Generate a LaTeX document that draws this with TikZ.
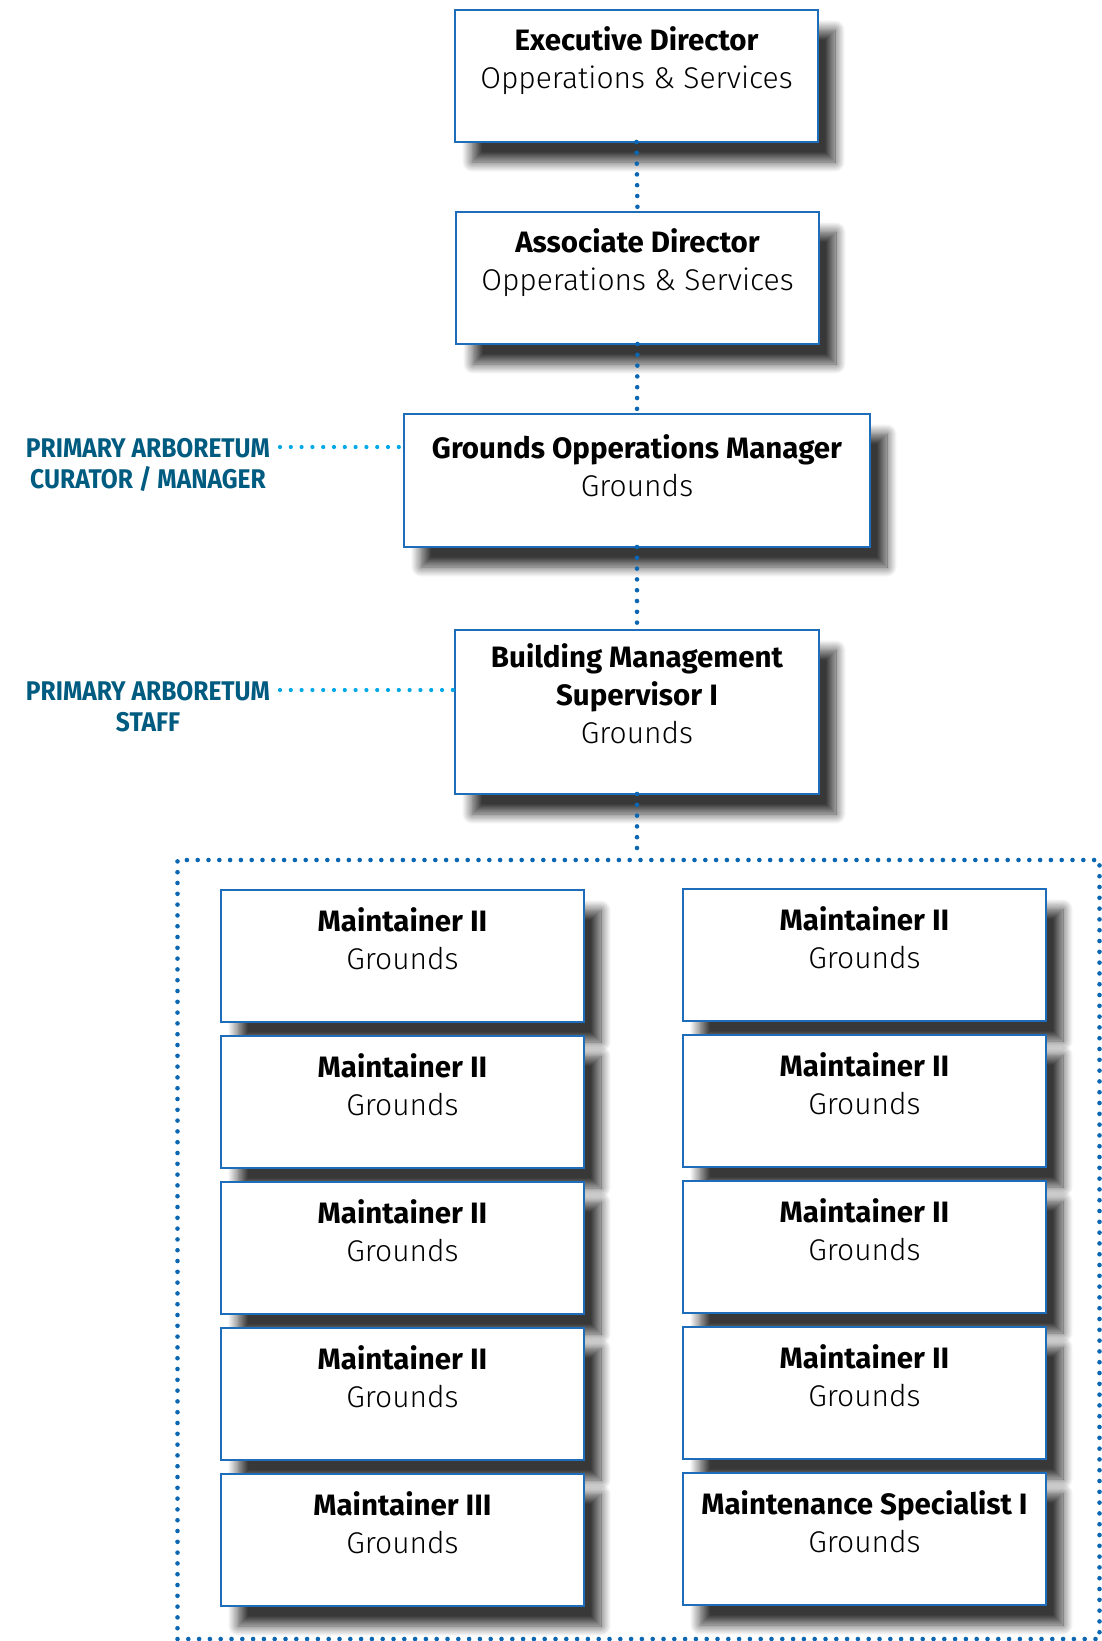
\documentclass[tikz,border=0pt]{standalone}
\usepackage{fontspec}
\usetikzlibrary{shadows.blur}
\newfontfamily\titlefont{Fira Sans}
\newfontfamily\subfont{Fira Sans Light}
\newfontfamily\labfont{Fira Sans}[FakeStretch=0.91]
\definecolor{boxblue}{HTML}{1D6DBA}
\definecolor{dotblue}{HTML}{0B67B2}
\definecolor{lightdot}{HTML}{00A8E8}
\definecolor{labteal}{HTML}{005B80}
\newcommand\ttl[1]{{\titlefont\bfseries\fontsize{29.5}{38}\selectfont\rule{0pt}{30pt}#1\par}}
\newcommand\sbt[1]{{\subfont\fontsize{30}{38}\selectfont #1\par}}
\newcommand\bx[5]{\parbox[c][#1][t]{#2}{\centering\vspace*{#3}\ttl{#4}\sbt{#5}}}
\begin{document}
\begin{tikzpicture}[x=1pt,y=-1pt,
 orgbox/.style={draw=boxblue, line width=2.5pt, fill=white, inner sep=0pt, outer sep=0pt,
   blur shadow={shadow xshift=17pt, shadow yshift=-20pt, shadow blur radius=10pt, shadow blur steps=12, shadow opacity=78}},
 dotline/.style={draw=dotblue, line width=4.6pt, line cap=round, dash pattern=on 0pt off 10.8pt},
 lightline/.style={draw=lightdot, line width=4.2pt, line cap=round, dash pattern=on 0pt off 10.8pt},
 labnode/.style={text=labteal, font=\labfont\bfseries\fontsize{27}{31}\selectfont, align=center, inner sep=0pt}]
\useasboundingbox (0,0) rectangle (1102,1641);
% frame
\node (frame) [dotline, minimum width=922pt, minimum height=779pt, inner sep=0pt] at (638.5,1249.5) {};
% top chain
\node (exec) [orgbox] at (636.5,76) {\bx{132pt}{363pt}{10pt}{Executive Director}{Opperations \& Services}};
\node (assoc) [orgbox] at (637.5,278) {\bx{132pt}{363pt}{10pt}{Associate Director}{Opperations \& Services}};
\node (gom) [orgbox] at (637,480.5) {\bx{133pt}{466pt}{14pt}{Grounds Opperations Manager}{Grounds}};
\node (bms) [orgbox] at (637,712) {\bx{164pt}{364pt}{7pt}{Building Management\\Supervisor I}{Grounds}};
% labels
\node (lab1) [labnode, anchor=north] at (148,438) {PRIMARY ARBORETUM\\CURATOR / MANAGER};
\node (lab2) [labnode, anchor=north] at (148,681) {PRIMARY ARBORETUM\\STAFF};
\coordinate (c1) at (280,447);
\coordinate (c2) at (280,690);
% maintainers left
\foreach \i/\t in {0/Maintainer II,1/Maintainer II,2/Maintainer II,3/Maintainer II,4/Maintainer III}{
  \node (L\i) [orgbox] at (402.5,956+146*\i) {\bx{132pt}{363pt}{11pt}{\t}{Grounds}};
}
\foreach \i/\t in {0/Maintainer II,1/Maintainer II,2/Maintainer II,3/Maintainer II,4/Maintenance Specialist I}{
  \node (R\i) [orgbox] at (864.5,955+146*\i) {\bx{132pt}{363pt}{11pt}{\t}{Grounds}};
}
% connectors
\draw[dotline] (exec.south) -- (assoc.north);
\draw[dotline] (assoc.south) -- (gom.north);
\draw[dotline] (gom.south) -- (bms.north);
\draw[dotline] (bms.south) -- (bms.south |- frame.north);
\draw[lightline] (c1) -- (c1 -| gom.west);
\draw[lightline] (c2) -- (c2 -| bms.west);
\end{tikzpicture}
\end{document}
